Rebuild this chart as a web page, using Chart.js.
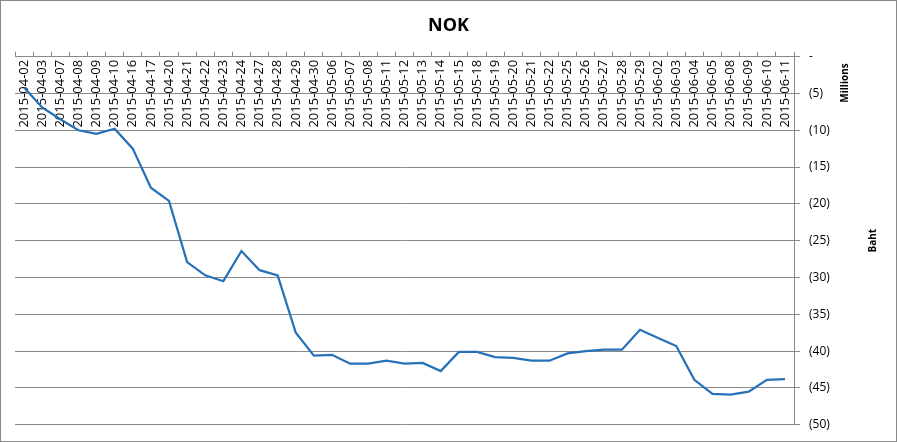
<!DOCTYPE html>
<html>
<head>
<meta charset="utf-8">
<script src="https://cdn.jsdelivr.net/npm/chart.js@4"></script>
<style>
  html, body { margin: 0; padding: 0; background: #fff; }
  #wrap { width: 897px; height: 442px; box-sizing: border-box; border: 1px solid #898989; }
  canvas { display: block; }
</style>
</head>
<body>
<div id="wrap"><canvas id="nokChart" width="895" height="440"></canvas></div>
<script>
// trading dates
const dates = [
  "2015-04-02", "2015-04-03", "2015-04-07", "2015-04-08", "2015-04-09", "2015-04-10",
  "2015-04-16", "2015-04-17", "2015-04-20", "2015-04-21", "2015-04-22", "2015-04-23",
  "2015-04-24", "2015-04-27", "2015-04-28", "2015-04-29", "2015-04-30", "2015-05-06",
  "2015-05-07", "2015-05-08", "2015-05-11", "2015-05-12", "2015-05-13", "2015-05-14",
  "2015-05-15", "2015-05-18", "2015-05-19", "2015-05-20", "2015-05-21", "2015-05-22",
  "2015-05-25", "2015-05-26", "2015-05-27", "2015-05-28", "2015-05-29", "2015-06-02",
  "2015-06-03", "2015-06-04", "2015-06-05", "2015-06-08", "2015-06-09", "2015-06-10",
  "2015-06-11"
];

// NOK, millions of baht (negative)
const nokValues = [
  -4.2, -6.9, -8.5, -10.0, -10.5, -9.8,
  -12.5, -17.8, -19.6, -27.9, -29.7, -30.5,
  -26.4, -29.0, -29.7, -37.5, -40.6, -40.5,
  -41.7, -41.7, -41.3, -41.7, -41.6, -42.7,
  -40.1, -40.1, -40.8, -40.9, -41.3, -41.3,
  -40.3, -40.0, -39.8, -39.8, -37.1, -38.2,
  -39.3, -43.9, -45.8, -45.9, -45.5, -43.9,
  -43.8
];

const yMin = -50;
const yMax = 0;
const yStep = 5;

const FONT = "'Open Sans', sans-serif";
const GREY = "#898989";

// "Millions" and "Baht" read bottom-to-top on the right side
const unitLabels = {
  id: "unitLabels",
  afterDraw(chart) {
    const c = chart.ctx;
    const area = chart.chartArea;
    const draw = (text, x, y) => {
      c.save();
      c.fillStyle = "#000";
      c.font = "bold 10px " + FONT;
      c.textAlign = "center";
      c.textBaseline = "middle";
      c.translate(x, y);
      c.rotate(-Math.PI / 2);
      c.fillText(text, 0, 0);
      c.restore();
    };
    draw("Millions", 844, 82);
    draw("Baht", 872, (area.top + area.bottom) / 2);
  }
};

const ctx = document.getElementById("nokChart").getContext("2d");
const nokChart = new Chart(ctx, {
  type: "line",
  data: {
    labels: dates,
    datasets: [{
      label: "NOK",
      data: nokValues,
      borderColor: "#2671B8",
      borderWidth: 2.25,
      pointRadius: 0,
      tension: 0,
      fill: false
    }]
  },
  options: {
    responsive: false,
    animation: false,
    // equal left/right padding keeps the title centred on the whole chart
    layout: { padding: { left: 14, right: 14, top: 0, bottom: 14 } },
    plugins: {
      legend: { display: false },
      tooltip: { enabled: false },
      title: {
        display: true,
        text: "NOK",
        color: "#000",
        font: { family: FONT, size: 18, weight: "bold" },
        padding: { top: 14, bottom: 0 }
      }
    },
    scales: {
      x: {
        position: "top",
        offset: true,
        grid: { offset: true, drawOnChartArea: false, tickLength: 5, color: GREY },
        border: { color: GREY },
        ticks: {
          autoSkip: false,
          minRotation: 90,
          maxRotation: 90,
          mirror: true,   // draw the dates inside the plot, hanging under the top line
          padding: 71,
          color: "#000",
          font: { family: FONT, size: 13 }
        },
        afterFit: (scale) => {
          scale.height = 20;
          scale.paddingLeft = 0;
          scale.paddingRight = 0;
        }
      },
      y: {
        position: "right",
        min: yMin,
        max: yMax,
        grid: { color: GREY, tickLength: 6 },
        border: { color: GREY },
        ticks: {
          stepSize: yStep,
          padding: 9,
          color: "#000",
          font: { family: FONT, size: 12 },
          callback: (v) => (v === 0 ? "-" : "(" + Math.abs(v) + ")")
        },
        afterFit: (scale) => { scale.width = 88; }
      }
    }
  },
  plugins: [unitLabels]
});
</script>
</body>
</html>
